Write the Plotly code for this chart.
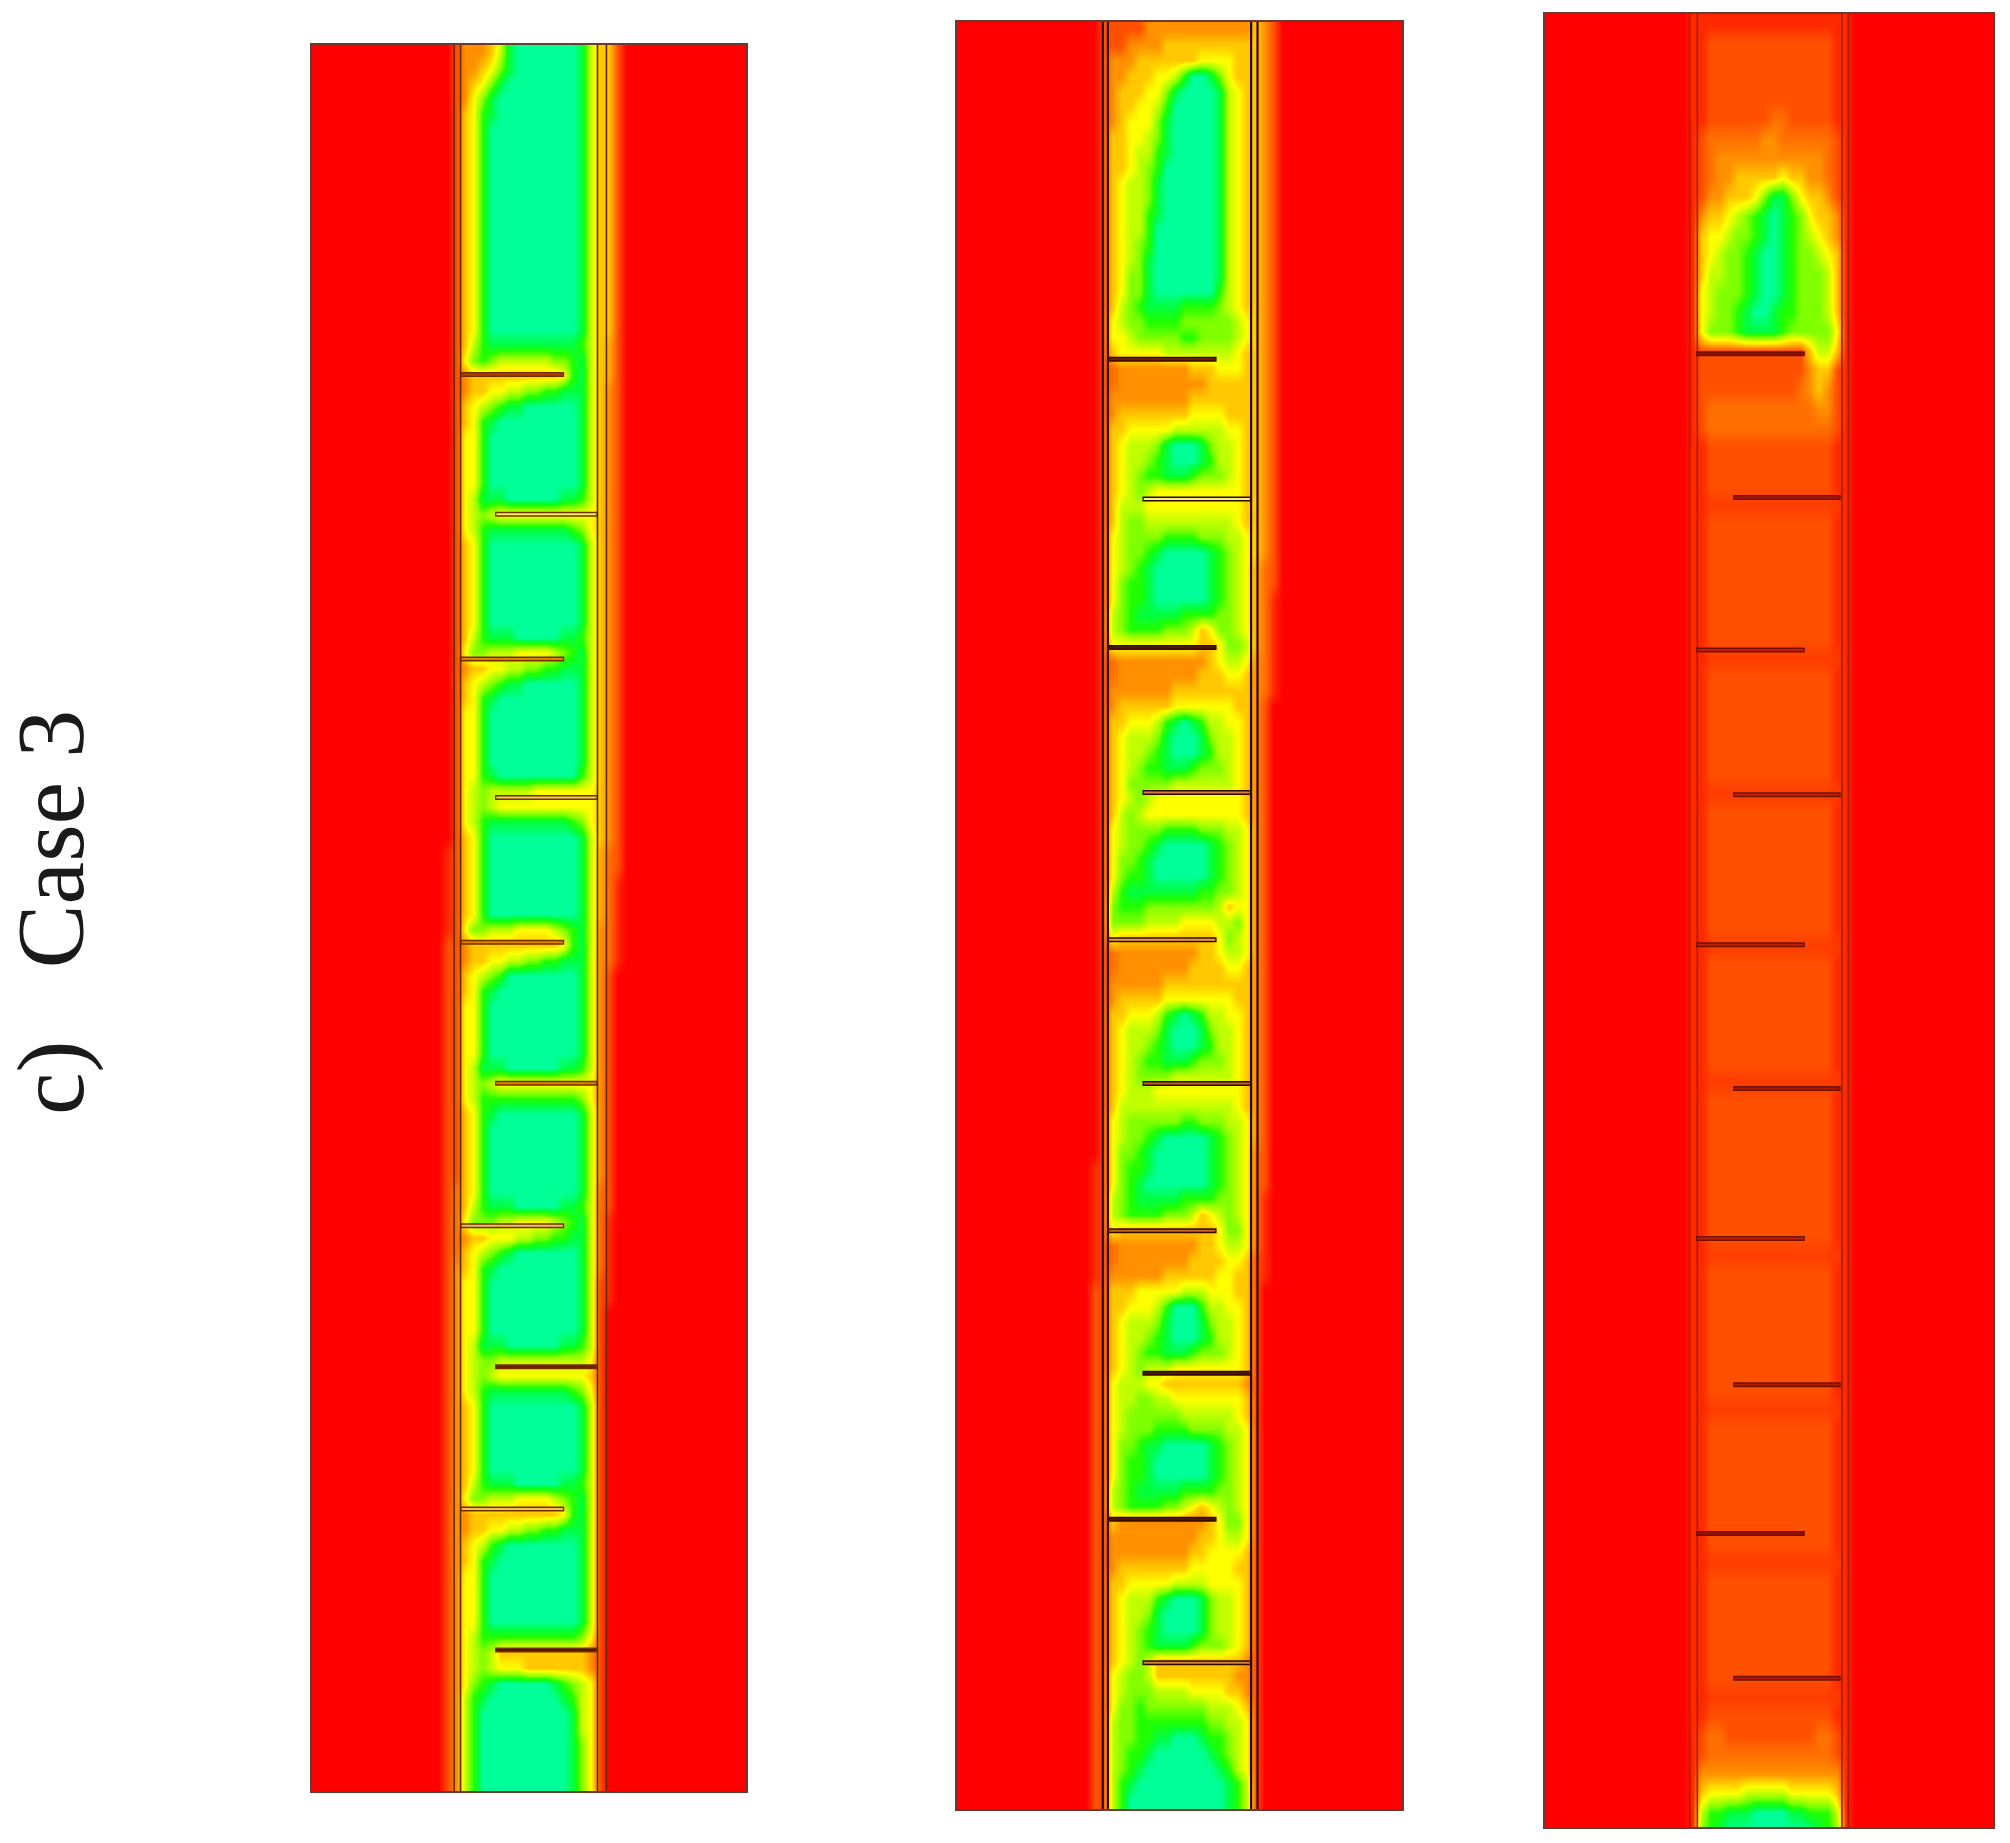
import plotly.graph_objects as go

CAPTION = "c)\u00a0\u00a0\u00a0Case 3"
LEVEL_COLORS = ["#00ff99", "#00ff40", "#20ff00", "#80ff00", "#c0ff00",
                "#ffff00", "#ffc800", "#ff9000", "#ff5000", "#ff0000"]
HALF_LEVELS = {"a": 8.5, "b": 7.5, "c": 6.5, "d": 8.25}

# cell edges across each panel, in reference units
P1_X = [243, 331, 338, 345, 352, 359, 366, 373, 380, 387, 394, 401, 408, 415, 422, 429, 436, 443, 450, 457, 464, 471, 478, 485, 492, 582]
P2_X = [746, 836, 843, 850, 857, 864, 871, 878, 885, 892, 899, 906, 913, 920, 927, 934, 941, 948, 955, 962, 969, 976, 983, 990, 997, 1004, 1094]
P3_X = [1205, 1296, 1303, 1310, 1317, 1324, 1331, 1338, 1345, 1352, 1359, 1366, 1373, 1380, 1387, 1394, 1401, 1408, 1415, 1422, 1429, 1436, 1443, 1450, 1457, 1464, 1555]

# volume-fraction levels read row by row, top to bottom
P1_ROWS = """
9 9998 777641000000014 6689 9
9 9998 776531000000014 6689 9
9 9998 765310000000014 6689 9
9 9998 753100000000014 6689 9
9 9998 652100000000014 6689 9
9 9998 652000000000014 6689 9
9 9998 652000000000014 6689 9
9 9998 652000000000014 6689 9
9 9998 652000000000014 6689 9
9 9998 652000000000014 6689 9
9 9998 652000000000014 6689 9
9 9998 652000000000014 6689 9
9 9998 652000000000014 6689 9
9 9998 652000000000014 6689 9
9 9998 652000000000014 6689 9
9 9998 652000000000014 6689 9
9 9998 652000000000014 6689 9
9 9998 652000000000014 6689 9
9 9998 652000000000014 6689 9
9 9998 642111111111124 6c89 9
9 9998 532344444433214 6c89 9
9 9998 766666666665214 6c89 9
9 9998 766554433221114 6789 9
9 9998 654321100000014 6789 9
9 9998 652100000000014 6789 9
9 9998 552000000000014 6789 9
9 9998 552000000000014 6789 9
9 9998 552000000000014 6789 9
9 9998 552000000000014 6789 9
9 9998 541110000001124 6789 9
9 9998 543455555555555 6789 9
9 9998 542111111111235 6789 9
9 9998 652000000000014 6789 9
9 9998 652000000000014 6789 9
9 9998 652000000000014 6789 9
9 9998 652000000000014 6789 9
9 9998 652000000000014 6789 9
9 9998 652000000000014 6789 9
9 9998 642111000001124 6789 9
9 9998 533444555543214 6789 9
9 9998 766554433221114 6789 9
9 9998 654321100000014 6789 9
9 9998 652100000000014 6789 9
9 9998 552000000000014 6789 9
9 9998 552000000000014 6789 9
9 9998 552000000000014 6789 9
9 9998 552000000000014 6789 9
9 9998 552100000000024 6789 9
9 9998 543444445555555 6789 9
9 9998 543455555555555 6789 9
9 9998 542111111111235 6789 9
9 9998 652000000000014 6789 9
9 99a8 652000000000014 cb89 9
9 99a8 652000000000014 cb89 9
9 99a8 652000000000014 cba9 9
9 99a8 652000000000014 cba9 9
9 99a8 652000000000014 cba9 9
9 99a8 533444555543214 7ba9 9
9 9988 766666666665214 7ba9 9
9 9988 766554433221114 7ba9 9
9 9988 654320000000014 7899 9
9 9988 652100000000014 7899 9
9 9988 552000000000014 7899 9
9 9988 552000000000014 7899 9
9 9988 552000000000014 7899 9
9 9988 552000000000014 7899 9
9 9988 541110000001124 7899 9
9 9988 543455555555555 7899 9
9 9988 542222222222235 7899 9
9 9988 652100000000014 7899 9
9 9988 652000000000014 7899 9
9 9988 652000000000014 7899 9
9 9988 652000000000014 7899 9
9 9988 652000000000014 7899 9
9 998b 652000000000014 b899 9
9 998b 642111000001124 b899 9
9 998b 533344555543214 ba99 9
9 998b 766555443322114 ba99 9
9 998b 654321000000014 ba99 9
9 9987 652100000000014 ba99 9
9 9987 552000000000014 8a99 9
9 9987 552000000000014 8a99 9
9 9987 552000000000014 8999 9
9 9987 552000000000014 8999 9
9 9987 541110000001124 8999 9
9 9987 543344444444445 8999 9
9 9987 543455555555556 8999 9
9 9987 542111111111235 8999 9
9 9987 652000000000014 8999 9
9 9987 652000000000014 8999 9
9 9987 652000000000014 8999 9
9 9987 652000000000014 8999 9
9 9987 652000000000014 8999 9
9 9987 642111000001124 8999 9
9 9987 533444555543214 8999 9
9 9987 766666666665214 8999 9
9 9987 766554433221114 8999 9
9 9987 654210000000014 8999 9
9 9987 652100000000014 8999 9
9 9987 552000000000014 8999 9
9 9987 552000000000014 8999 9
9 9987 552000000000014 8999 9
9 9987 552000000000014 8999 9
9 9987 542222222222235 8999 9
9 9987 543466666666667 8999 9
9 9987 543455566666667 8999 9
9 9987 532100000012345 8999 9
9 9987 421000000001245 8999 9
9 9987 420000000000145 8999 9
9 9987 420000000000145 8999 9
9 9987 420000000000135 8999 9
9 9987 420000000000135 8999 9
9 9987 420000000000135 8999 9
9 9987 420000000000135 8999 9
"""

P2_ROWS = """
9 9998 8888777777777777 6789 9
9 9998 8877776666666666 6789 9
9 9998 7776666666555566 6789 9
9 9998 7766655420013566 6789 9
9 9998 7666553100001456 6789 9
9 9998 7665542000001456 6789 9
9 9998 7655531000001456 6789 9
9 9998 6655431000001456 6789 9
9 9998 6654421000001456 6789 9
9 9998 6654320000001456 6789 9
9 9998 6544310000001456 6789 9
9 9998 6544310000001456 6789 9
9 9998 6544210000001456 6789 9
9 9998 6544200000001456 6789 9
9 9998 6543200000001456 6789 9
9 9998 6543100000001456 6789 9
9 9998 6533100000001456 6789 9
9 9998 6533100000002456 6789 9
9 9998 6432111122223456 6789 9
9 9998 5433222233333345 6789 9
9 9998 5543333322333345 6789 9
9 9998 6555554444444456 6789 9
9 9998 b777777776665556 6789 9
9 9998 b777777777766666 6789 9
9 9998 7777777776666666 6789 9
9 9998 7666666665555666 6789 9
9 9998 6655555444444556 6789 9
9 9998 6544431000134456 6789 9
9 9998 6544321000124456 6789 9
9 9998 6543221112333456 6789 9
9 9998 6543455555555556 6789 9
9 9998 6444555555555556 6789 9
9 9998 6433444444444456 6789 9
9 9998 5433332222333445 6789 9
9 9998 5433210000012345 6789 9
9 9998 5432100000012345 cb89 9
9 9998 5322100000012345 cb89 9
9 9998 5322100000012345 cba9 9
9 9998 4321111122223345 cba9 9
9 9998 4322223334653345 cba9 9
9 9998 5555555555665334 cba9 9
9 9998 b777777777765445 7ba9 9
9 9998 b777777777666556 7ba9 9
9 9998 7777777666666666 7ba9 9
9 9998 7666666555555566 7899 9
9 9998 6655542101244556 7899 9
9 9998 6544431000134456 7899 9
9 9998 6544321000124456 7899 9
9 9998 6543221112333456 7899 9
9 9998 6533333444444456 7899 9
9 9998 6543455555555556 7899 9
9 9998 6434555555555556 7899 9
9 9998 5433332222333445 7899 9
9 9998 5433210000012345 7899 9
9 9998 5332100000012345 7899 9
9 9998 5322100000012345 7899 9
9 9998 4211111111223345 7899 9
9 9998 3222333333334655 7899 9
9 9998 3333444455554435 7899 9
9 9998 5666666666665345 7899 9
9 9998 b777777777665445 7899 9
9 9998 b777777776666556 7899 9
9 9998 7777776666666666 7899 9
9 9998 7666665555555566 7899 9
9 9998 6655542101244556 7899 9
9 9998 6544431000134456 7899 9
9 9998 6544321000124456 7899 9
9 9998 6543221112333456 7899 9
9 9998 6543333444444456 7899 9
9 9998 6544455555555556 7899 9
9 9998 6444444444444456 7899 9
9 9998 5433333322333445 7899 9
9 9998 5433210000012345 7899 9
9 9998 5332100000012345 b899 9
9 99a8 5322100000012345 b899 9
9 99a8 5321000000012345 b899 9
9 99a8 4321111122223345 ba99 9
9 99a8 4322223334654345 ba99 9
9 99a8 5666666666665335 ba99 9
9 99a8 b777777777665445 ba99 9
9 99a8 b777777776666556 8a99 9
9 99a8 7777776666665566 8a99 9
9 9988 6665555544455566 8999 9
9 9988 6655542000244556 8999 9
9 9988 6544431000134456 8999 9
9 9988 6544321000124456 8999 9
9 9988 6543221112333456 8999 9
9 9988 6543444555555556 8999 9
9 9988 5444556666666667 8999 9
9 9988 5443344555555556 8999 9
9 9988 5433333344444456 8999 9
9 9988 5433322223333445 8999 9
9 9988 5332110000012345 8999 9
9 9988 5322100000012345 8999 9
9 9988 5322100000012345 8999 9
9 9988 4321111122223345 8999 9
9 9988 4322223345654345 8999 9
9 9988 6777777777765335 8999 9
9 9988 7777777777665445 8999 9
9 9988 7777777776655556 8999 9
9 9988 7666666665555566 8999 9
9 9988 6655555444455556 8999 9
9 9988 6544421000134456 8999 9
9 9988 6544310000134456 8999 9
9 9988 6543210000134456 8999 9
9 9988 6543211112333456 8999 9
9 9988 6543466666666667 8999 9
9 9988 5433466666666677 8999 9
9 9988 5433344445555667 8999 9
9 9988 5332333333344456 8999 9
9 9988 4332222222233445 8999 9
9 9988 4332211000122345 8999 9
9 9988 4322100000012345 8999 9
9 9988 4321000000001245 8999 9
9 9988 4210000000000124 8999 9
9 9988 4200000000000124 8999 9
9 9988 4200000000000124 8999 9
"""

P3_ROWS = """
9 999a aaaaaaaaaaaaaaaa a999 9
9 999a a88888888888888a a999 9
9 999a a88888888888888a a999 9
9 999a a88888888888888a a999 9
9 999a a88888888888888a a999 9
9 999a a8888888bb88888a a999 9
9 999a 8bbbbbb77bbbbbb8 a999 9
9 999a 8b777777777777b8 a999 9
9 999a 8b776666656677b8 a999 9
9 999a 8776665311356678 a999 9
9 999a 7665432101235667 a999 9
9 999a 6554332101234567 a999 9
9 999a 6543321001233456 a999 9
9 999a 6443321001233346 a999 9
9 999a 5433321001233346 a999 9
9 999a 5433210012233346 a999 9
9 999a 5333211112333335 a999 9
9 999a 8888888888886446 a999 9
9 999a 8888888888887668 a999 9
9 999a 88888888888b7678 a999 9
9 999a 8bbbbbbbbbbbb778 a999 9
9 999a 8bbbbbbbbbbbbbb8 a999 9
9 999a a88888888888888a a999 9
9 999a a88888888888888a a999 9
9 999a a88888888888888a a999 9
9 999a addddddddddddddd a999 9
9 999a a88888888888888a a999 9
9 999a a88888888888888a a999 9
9 999a a88888888888888a a999 9
9 999a a88888888888888a a999 9
9 999a a88888888888888a a999 9
9 999a a88888888888888a a999 9
9 999a a88888888888888a a999 9
9 999a addddddddddddddd a999 9
9 999a a88888888888888a a999 9
9 999a a88888888888888a a999 9
9 999a a88888888888888a a999 9
9 999a a88888888888888a a999 9
9 999a a88888888888888a a999 9
9 999a a88888888888888a a999 9
9 999a addddddddddddddd a999 9
9 999a a88888888888888a a999 9
9 999a a88888888888888a a999 9
9 999a a88888888888888a a999 9
9 999a a88888888888888a a999 9
9 999a a88888888888888a a999 9
9 999a a88888888888888a a999 9
9 999a a88888888888888a a999 9
9 999a addddddddddddddd a999 9
9 999a a88888888888888a a999 9
9 999a a88888888888888a a999 9
9 999a a88888888888888a a999 9
9 999a a88888888888888a a999 9
9 999a a88888888888888a a999 9
9 999a a88888888888888a a999 9
9 999a addddddddddddddd a999 9
9 999a a88888888888888a a999 9
9 999a a88888888888888a a999 9
9 999a a88888888888888a a999 9
9 999a a88888888888888a a999 9
9 999a a88888888888888a a999 9
9 999a a88888888888888a a999 9
9 999a a88888888888888a a999 9
9 999a a88888888888888a a999 9
9 999a addddddddddddddd a999 9
9 999a a88888888888888a a999 9
9 999a a88888888888888a a999 9
9 999a a88888888888888a a999 9
9 999a a88888888888888a a999 9
9 999a a88888888888888a a999 9
9 999a a88888888888888a a999 9
9 999a a88888888888888a a999 9
9 999a addddddddddddddd a999 9
9 999a a88888888888888a a999 9
9 999a a88888888888888a a999 9
9 999a a88888888888888a a999 9
9 999a a88888888888888a a999 9
9 999a a88888888888888a a999 9
9 999a a88888888888888a a999 9
9 999a a88888888888888a a999 9
9 999a addddddddddddddd a999 9
9 999a a88888888888888a a999 9
9 999a a88888888888888a a999 9
9 999a a88888888888888a a999 9
9 999a a88888888888888a a999 9
9 999a a88888888888888a a999 9
9 999a a88888888888888a a999 9
9 999a addddddddddddddd a999 9
9 999a a88888888888888a a999 9
9 999a 8bb8888888888bb8 a999 9
9 999a 8bbbbbbbbbbbbbb8 a999 9
9 999a 7777777777777777 a999 9
9 999a 6555544444555556 a999 9
9 999a 4221110000112224 a999 9
9 999a 3210000000000123 a999 9
9 999a 3210000000000123 a999 9
"""

# fins: start, end, height, inner colour
P1_FIN_X0 = [359, 386, 359, 386, 359, 386, 359, 386, 359, 386]
P1_FIN_X1 = [440, 466, 440, 466, 440, 466, 440, 466, 440, 466]
P1_FIN_Y = [292, 401, 514, 622, 735, 845, 956, 1066, 1177, 1287]
P1_FIN_FILL = ["#b04000", "#f0f060", "#e08000", "#f0d060", "#e08000", "#e08000", "#f0c060", "#702000", "#f0c060", "#501800"]
P2_FIN_X0 = [864, 891, 864, 891, 864, 891, 864, 891, 864, 891]
P2_FIN_X1 = [949, 976, 949, 976, 949, 976, 949, 976, 949, 976]
P2_FIN_Y = [280, 389, 505, 618, 733, 845, 960, 1071, 1185, 1297]
P2_FIN_FILL = ["#702000", "#f0f090", "#501800", "#d08040", "#e8a040", "#c06020", "#c06020", "#501800", "#501800", "#d08040"]
P3_FIN_X0 = [1323, 1352, 1323, 1352, 1323, 1352, 1323, 1352, 1323, 1352]
P3_FIN_X1 = [1408, 1436, 1408, 1436, 1408, 1436, 1408, 1436, 1408, 1436]
P3_FIN_Y = [276, 388, 507, 620, 737, 849, 966, 1080, 1196, 1309]
P3_FIN_FILL = ["#901000", "#b01800", "#c02000", "#c02000", "#c02000", "#b01800", "#c02000", "#b01800", "#a01000", "#b01800"]

P1_WALLS = [354, 359, 466, 473]
P2_WALLS = [860, 864, 976, 981]
P3_WALLS = [1318, 1324, 1437, 1442]
P1_RANGE = ([243, 582], [1397, 35], 41, 12)
P2_RANGE = ([746, 1094], [1411, 17], 23, 12)
P3_RANGE = ([1205, 1555], [1425, 11], 18.5, 15)

WIDTH, HEIGHT = 2010, 1843
PANELS_PX = [(312, 746, 45, 1791), (957, 1402, 22, 1809), (1545, 1993, 14, 1827)]


def decode(text):
    rows = []
    for line in text.strip().splitlines():
        cells = line.replace(" ", "")
        rows.append([HALF_LEVELS[c] if c in HALF_LEVELS else int(c) for c in cells])
    return rows


scale = [[i / 9, c] for i, c in enumerate(LEVEL_COLORS)]
fig = go.Figure()
panels = [
    (P1_X, P1_ROWS, P1_FIN_X0, P1_FIN_X1, P1_FIN_Y, P1_FIN_FILL, P1_WALLS, P1_RANGE, "#5a2a00", "#703000", 1.6),
    (P2_X, P2_ROWS, P2_FIN_X0, P2_FIN_X1, P2_FIN_Y, P2_FIN_FILL, P2_WALLS, P2_RANGE, "#300000", "#300800", 2.2),
    (P3_X, P3_ROWS, P3_FIN_X0, P3_FIN_X1, P3_FIN_Y, P3_FIN_FILL, P3_WALLS, P3_RANGE, "#a02000", "#701000", 1.6),
]
for n, (xe, rows, fx0, fx1, fy, ff, walls, rng, wall_c, fin_c, wall_w) in enumerate(panels):
    suffix = "" if n == 0 else str(n + 1)
    ax = dict(xaxis="x" + suffix, yaxis="y" + suffix)
    z = decode(rows)
    fig.add_trace(go.Heatmap(z=z, x=xe, y0=rng[2], dy=rng[3], zsmooth="best", zmin=0, zmax=9,
                             colorscale=scale, showscale=False, hoverinfo="skip", **ax))
    for w in walls:
        fig.add_trace(go.Scatter(x=[w, w], y=[rng[1][0], rng[1][1]], mode="lines",
                                 line=dict(color=wall_c, width=wall_w), hoverinfo="skip", **ax))
    for a, b, y, fill in zip(fx0, fx1, fy, ff):
        fig.add_trace(go.Scatter(x=[a, b], y=[y, y], mode="lines",
                                 line=dict(color=fin_c, width=5), hoverinfo="skip", **ax))
        fig.add_trace(go.Scatter(x=[a + 1, b - 1], y=[y, y], mode="lines",
                                 line=dict(color=fill, width=2), hoverinfo="skip", **ax))
    x0, x1, y0, y1 = PANELS_PX[n]
    common = dict(showgrid=False, zeroline=False, showticklabels=False, ticks="", mirror=True,
                  showline=True, linecolor="#6a3a30", linewidth=1.5)
    fig.layout["xaxis" + suffix] = dict(domain=[x0 / WIDTH, x1 / WIDTH], range=rng[0],
                                        anchor="y" + suffix, **common)
    fig.layout["yaxis" + suffix] = dict(domain=[1 - y1 / HEIGHT, 1 - y0 / HEIGHT], range=rng[1],
                                        anchor="x" + suffix, **common)

fig.add_annotation(text=CAPTION, xref="paper", yref="paper", x=50 / WIDTH, y=1 - 913 / HEIGHT,
                   textangle=-90, showarrow=False, xanchor="center", yanchor="middle",
                   font=dict(family="Liberation Serif", size=96, color="#1a1a1a"))
fig.update_layout(width=WIDTH, height=HEIGHT, autosize=False, margin=dict(l=0, r=0, t=0, b=0),
                  paper_bgcolor="white", plot_bgcolor="white", showlegend=False)
fig.write_html("out.html", config={"displayModeBar": False},
               post_script="document.body.style.margin='0';")
